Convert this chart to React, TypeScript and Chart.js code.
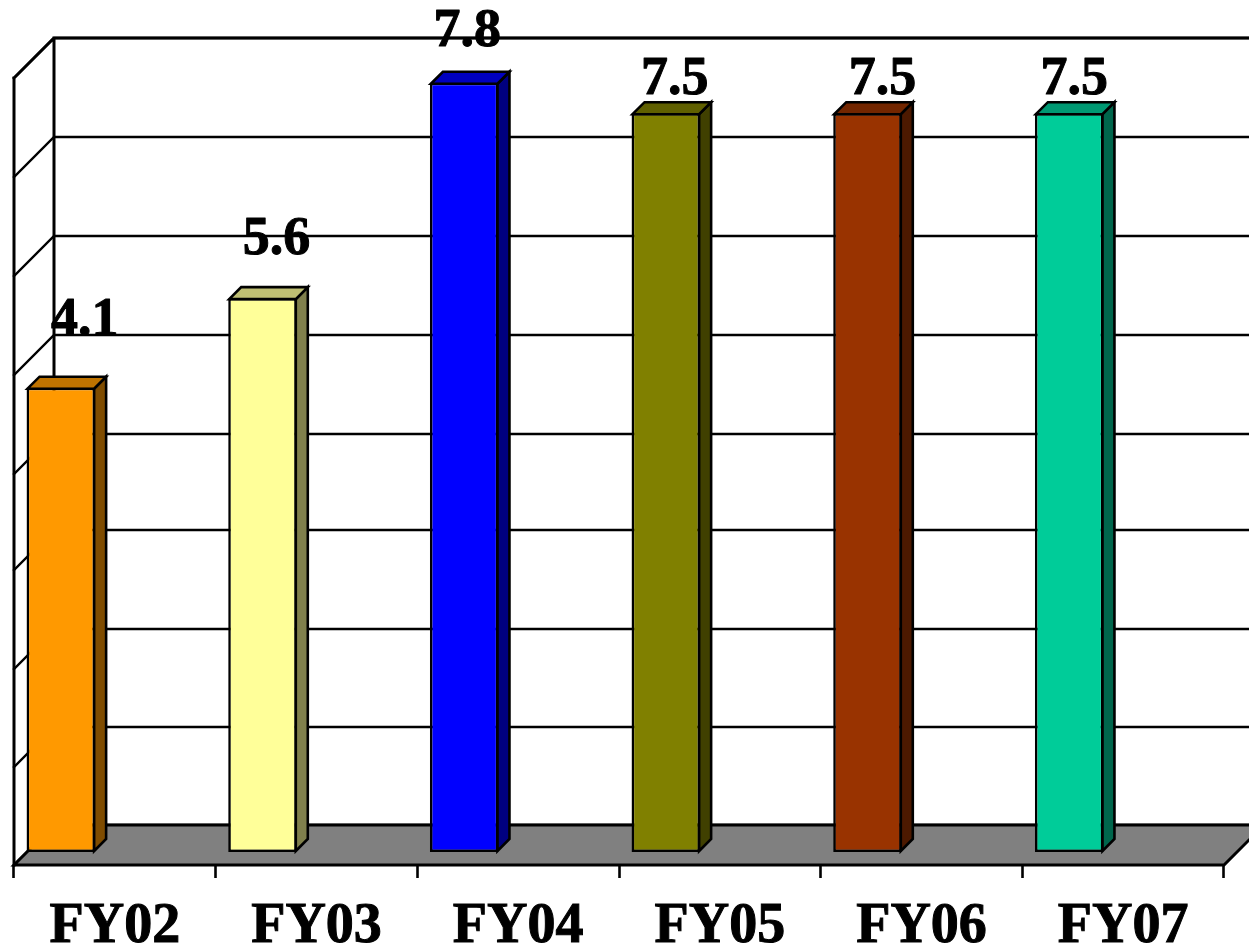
import React, { useEffect, useRef } from "react";
import { Chart, registerables } from "chart.js";

Chart.register(...registerables);

const categories = ["FY02", "FY03", "FY04", "FY05", "FY06", "FY07"];
// Bar heights as drawn in the picture (the first bar stands taller than its printed label)
const barValues = [4.72, 5.63, 7.82, 7.51, 7.51, 7.51];
const valueLabels = ["4.1", "5.6", "7.8", "7.5", "7.5", "7.5"];
const gridValues = [0, 0.996, 1.992, 2.999, 3.974, 4.981, 5.987, 6.993, 8];

const frontColors = ["#FF9900", "#FFFF99", "#0000FF", "#808000", "#993300", "#00CC99"];
const sideColors = ["#7F4C00", "#80804C", "#000080", "#404000", "#4C1900", "#00664C"];
const topColors = ["#BF7300", "#BFBF73", "#0000BF", "#606000", "#732600", "#009973"];

// Label placement relative to each bar's top centre
const labelDx = [24, 14, 3, 9, 15, 5];
const labelRise = [53, 44, 37, 19, 19, 19];

const FONT = '"Liberation Serif", "Times New Roman", serif';
const WALL_DEPTH = 40;
const BAR_FRONT = 13; // floor offset of the bar's front face
const BAR_DEPTH = 12;

const scene3d = {
  id: "scene3d",
  beforeDatasetsDraw(chart: any) {
    const { ctx, chartArea, scales } = chart;
    const { left, right, bottom } = chartArea;
    const y = scales.y;
    const backOffset = WALL_DEPTH - BAR_FRONT;
    ctx.save();
    ctx.strokeStyle = "#000";
    ctx.lineCap = "square";

    // gridlines on back and side walls
    ctx.lineWidth = 2.4;
    gridValues.forEach((v) => {
      const py = Math.round(y.getPixelForValue(v) - backOffset);
      ctx.beginPath();
      ctx.moveTo(left, py + WALL_DEPTH);
      ctx.lineTo(left + WALL_DEPTH, py);
      ctx.lineTo(right + WALL_DEPTH, py);
      ctx.stroke();
    });

    // wall verticals
    const topBack = Math.round(y.getPixelForValue(8) - backOffset);
    const floorBack = bottom - WALL_DEPTH;
    ctx.lineWidth = 3;
    ctx.beginPath();
    ctx.moveTo(left + WALL_DEPTH, topBack);
    ctx.lineTo(left + WALL_DEPTH, floorBack);
    ctx.moveTo(left, topBack + WALL_DEPTH);
    ctx.lineTo(left, bottom);
    ctx.moveTo(left, topBack + WALL_DEPTH);
    ctx.lineTo(left + WALL_DEPTH, topBack);
    ctx.lineTo(right + WALL_DEPTH, topBack);
    ctx.stroke();

    // floor
    ctx.beginPath();
    ctx.moveTo(left, bottom);
    ctx.lineTo(right, bottom);
    ctx.lineTo(right + WALL_DEPTH, floorBack);
    ctx.lineTo(left + WALL_DEPTH, floorBack);
    ctx.closePath();
    ctx.fillStyle = "#808080";
    ctx.fill();
    ctx.stroke();

    // side and top faces of the bars
    ctx.lineWidth = 2.6;
    ctx.lineJoin = "miter";
    chart.getDatasetMeta(0).data.forEach((bar: any, i: number) => {
      const half = bar.width / 2;
      const l = bar.x - half + 1;
      const r = bar.x + half - 1;
      const t = bar.y + 1;
      const b = bar.base - 1;
      const d = BAR_DEPTH;
      ctx.beginPath();
      ctx.moveTo(r, t);
      ctx.lineTo(r + d, t - d);
      ctx.lineTo(r + d, b - d);
      ctx.lineTo(r, b);
      ctx.closePath();
      ctx.fillStyle = sideColors[i];
      ctx.fill();
      ctx.stroke();
      ctx.beginPath();
      ctx.moveTo(l, t);
      ctx.lineTo(l + d, t - d);
      ctx.lineTo(r + d, t - d);
      ctx.lineTo(r, t);
      ctx.closePath();
      ctx.fillStyle = topColors[i];
      ctx.fill();
      ctx.stroke();
    });
    ctx.restore();
  },
  afterDatasetsDraw(chart: any) {
    const { ctx } = chart;
    ctx.save();
    ctx.fillStyle = "#000";
    ctx.strokeStyle = "#000";
    ctx.lineWidth = 1;
    ctx.lineJoin = "round";
    ctx.font = `bold 54px ${FONT}`;
    ctx.textAlign = "center";
    ctx.textBaseline = "alphabetic";
    chart.getDatasetMeta(0).data.forEach((bar: any, i: number) => {
      const tx = bar.x + labelDx[i];
      const ty = bar.y - labelRise[i];
      ctx.fillText(valueLabels[i], tx, ty);
      ctx.strokeText(valueLabels[i], tx, ty);
    });
    ctx.restore();
  },
};

export default function App() {
  const ref = useRef<HTMLCanvasElement>(null);
  useEffect(() => {
    const chart = new Chart(ref.current as HTMLCanvasElement, {
      type: "bar",
      data: {
        labels: categories,
        datasets: [
          {
            label: "Value",
            data: barValues,
            backgroundColor: frontColors,
            borderColor: "#000",
            borderWidth: 2.6,
            borderSkipped: false,
            categoryPercentage: 1.071,
            barPercentage: 0.635,
          },
          // Empty partner series: pushes the real bar to the left of its category slot
          {
            label: "",
            data: [],
            categoryPercentage: 1.071,
            barPercentage: 0.635,
          },
        ],
      },
      options: {
        animation: false,
        responsive: false,
        devicePixelRatio: 1,
        layout: { padding: { left: 14, right: 25, top: 65, bottom: 0 } },
        plugins: { legend: { display: false }, tooltip: { enabled: false }, title: { display: false } },
        scales: {
          x: {
            offset: true,
            afterFit: (s: any) => {
              s.height = 82;
            },
            border: { display: false },
            grid: {
              offset: true,
              drawOnChartArea: false,
              drawTicks: true,
              tickLength: 13,
              tickWidth: 2.6,
              tickColor: "#000",
            },
            ticks: {
              autoSkip: false,
              maxRotation: 0,
              padding: 16,
              color: "#000",
              textStrokeColor: "#000",
              textStrokeWidth: 1,
              font: { family: FONT, size: 56, weight: "bold" },
            },
          },
          y: { display: false, min: -0.132, max: 8, grid: { display: false } },
        },
      },
      plugins: [scene3d],
    } as any);
    return () => chart.destroy();
  }, []);
  return (
    <canvas
      ref={ref}
      width={1249}
      height={947}
      style={{ position: "absolute", left: 0, top: 0, width: 1249, height: 947, display: "block" }}
    />
  );
}
